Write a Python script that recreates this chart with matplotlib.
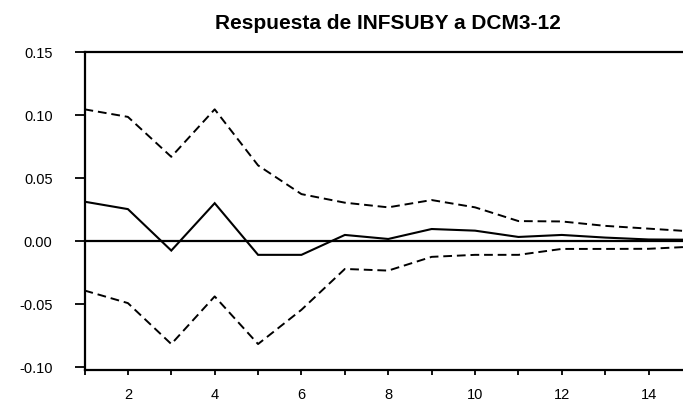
import matplotlib
matplotlib.use("Agg")
import matplotlib.pyplot as plt

periods = list(range(1, 16))
response = [0.0312, 0.0253, -0.0076, 0.0300, -0.0110, -0.0110, 0.0048, 0.0016,
            0.0095, 0.0082, 0.0032, 0.0048, 0.0027, 0.0012, 0.0010]
upper = [0.1045, 0.0985, 0.0668, 0.1045, 0.0600, 0.0372, 0.0304, 0.0267,
         0.0325, 0.0267, 0.0158, 0.0155, 0.0120, 0.0098, 0.0076]
lower = [-0.0393, -0.0493, -0.0818, -0.0440, -0.0818, -0.0546, -0.0222, -0.0235,
         -0.0126, -0.0110, -0.0110, -0.0063, -0.0063, -0.0062, -0.0045]
yticks = [-0.10, -0.05, 0.00, 0.05, 0.10, 0.15]
xticks = [2, 4, 6, 8, 10, 12, 14]
title = "Respuesta de INFSUBY a DCM3-12"

plt.rcParams['font.family'] = ['Liberation Sans', 'DejaVu Sans']

fig = plt.figure(figsize=(6.83, 4.06), dpi=100)
W, H = 683, 406
x0, x1 = 84.5, 692.0
ytop, ybot = 53.0, 371.0
ax = fig.add_axes([x0 / W, (H - ybot) / H, (x1 - x0) / W, (ybot - ytop) / H])

ax.plot(periods, response, color='black', lw=1.5, solid_joinstyle='miter')
ax.plot(periods, upper, color='black', lw=1.4, dashes=(4.5, 2.5))
ax.plot(periods, lower, color='black', lw=1.4, dashes=(4.5, 2.5))
ax.axhline(0, color='black', lw=1.6)

ax.set_xlim(1, 15)
ax.set_ylim(-0.1024, 0.15)
ax.set_yticks(yticks)
ax.set_yticklabels([f"{v:.2f}" for v in yticks])
ax.set_xticks(range(1, 16), minor=True)
ax.set_xticks(xticks)
ax.set_xticklabels([str(v) for v in xticks])

for s in ['left', 'bottom', 'top']:
    ax.spines[s].set_linewidth(1.6)
ax.spines['right'].set_visible(False)

ax.tick_params(axis='y', direction='out', length=7, width=1.3, labelsize=10.5, pad=16)
ax.tick_params(axis='x', which='both', direction='out', length=3.5, width=1.3, labelsize=10.5, pad=9)
ax.tick_params(axis='x', which='minor', length=3.5)

ax.set_title(title, fontsize=15, fontweight='bold', pad=17)

fig.savefig("out.png", dpi=100)
